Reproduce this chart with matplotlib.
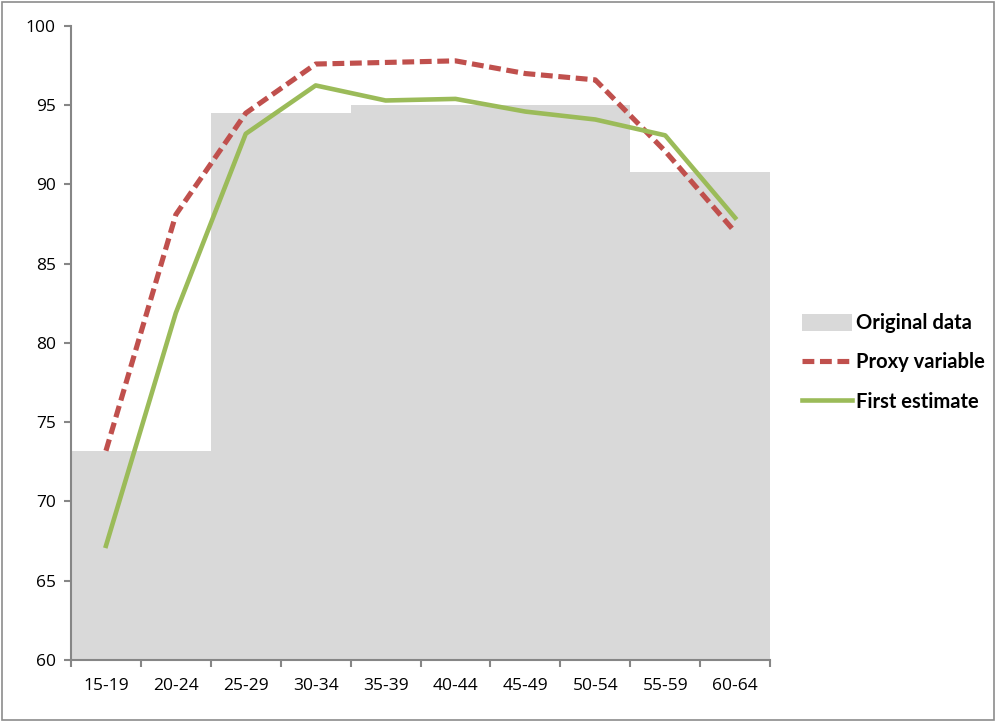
import numpy as np
import matplotlib.pyplot as plt
from matplotlib.patches import Rectangle

plt.rcParams['font.family'] = ['Open Sans', 'DejaVu Sans']

age_groups = ['15-19', '20-24', '25-29', '30-34', '35-39',
              '40-44', '45-49', '50-54', '55-59', '60-64']
original = [73.2, 73.2, 94.5, 94.5, 95.0, 95.0, 95.0, 95.0, 90.8, 90.8]
proxy = [73.2, 88.1, 94.5, 97.6, 97.7, 97.8, 97.0, 96.6, 92.1, 87.0]
first_est = [67.2, 81.9, 93.2, 96.25, 95.3, 95.4, 94.6, 94.1, 93.1, 87.9]

fig = plt.figure(figsize=(9.97, 7.22), dpi=100)
ax = fig.add_axes([0.0712, 0.0859, 0.7012, 0.8781])

x = np.arange(len(age_groups))
bars = ax.bar(x, np.array(original) - 60, bottom=60, width=1.0,
              color='#d9d9d9', linewidth=0)
l_proxy, = ax.plot(x, proxy, color='#c0504d', lw=3.7, ls=(0, (2.3, 1.1)),
                   dash_capstyle='butt')
l_first, = ax.plot(x, first_est, color='#9bbb59', lw=3.3)

ax.set_xlim(-0.5, len(age_groups) - 0.5)
ax.set_ylim(60, 100)
ax.set_yticks(range(60, 101, 5))
ax.set_xticks(x)
ax.set_xticklabels(age_groups)
ax.set_xticks(np.arange(-0.5, len(age_groups)), minor=True)
ax.tick_params(axis='x', which='major', length=0, pad=13, labelsize=12.5)
ax.tick_params(axis='x', which='minor', length=5, width=1.5, color='#868686',
               direction='out')
ax.tick_params(axis='y', length=5, width=1.5, color='#868686',
               labelsize=12.5, pad=6)
for side in ['top', 'right']:
    ax.spines[side].set_visible(False)
for side in ['left', 'bottom']:
    ax.spines[side].set_color('#868686')
    ax.spines[side].set_linewidth(1.5)

fig.legend([bars, l_proxy, l_first],
           ['Original data', 'Proxy variable', 'First estimate'],
           loc='upper left', bbox_to_anchor=(0.794, 0.580),
           frameon=False,
           prop={'family': 'Lato', 'weight': 'bold', 'size': 14.5},
           handlelength=2.5, handleheight=0.9, handletextpad=0.2,
           labelspacing=0.95, borderpad=0)

# outer chart frame
fig.patches.append(Rectangle((0.002, 0.003), 0.995, 0.994,
                             transform=fig.transFigure, fill=False,
                             edgecolor='#8c8c8c', lw=1.2))

fig.savefig('out.png', dpi=100)
